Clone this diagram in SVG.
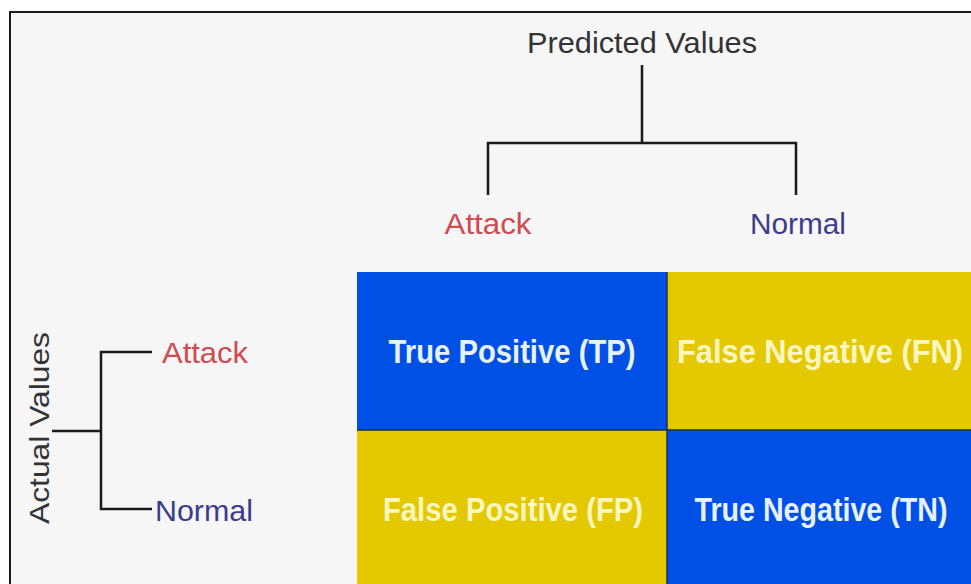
<svg xmlns="http://www.w3.org/2000/svg" width="971" height="584" viewBox="0 0 971 584">
<style>
.lbl{font-family:"Liberation Sans",Arial,sans-serif;font-size:30px}
.cell{font-family:"Liberation Sans",Arial,sans-serif;font-size:33px;font-weight:bold}
.ln{stroke:#1a1a1a;stroke-width:2.5;fill:none}
.atk{fill:#d04a50}
.nrm{fill:#3c3c8c}
</style>
<rect x="0" y="0" width="971" height="584" fill="#ffffff"/>
<rect x="10" y="12" width="970" height="580" fill="#f6f6f6" stroke="#1a1a1a" stroke-width="2"/>
<g id="connectors">
<path class="ln" d="M642 65 V143 M488 195 V143 H796 V195"/>
<path class="ln" d="M52 431 H101 M152 352 H101 V509 H152"/>
</g>
<g id="predicted-values"><text class="lbl" x="642" y="53" text-anchor="middle" fill="#333333" textLength="230" lengthAdjust="spacingAndGlyphs">Predicted Values</text></g>
<g id="pred-attack"><text class="lbl atk" x="488" y="234" text-anchor="middle" textLength="87" lengthAdjust="spacingAndGlyphs">Attack</text></g>
<g id="pred-normal"><text class="lbl nrm" x="798" y="234" text-anchor="middle" textLength="96" lengthAdjust="spacingAndGlyphs">Normal</text></g>
<g id="actual-values"><text class="lbl" transform="translate(49 428) rotate(-90)" text-anchor="middle" fill="#333333" textLength="192" lengthAdjust="spacingAndGlyphs" style="font-size:28px">Actual Values</text></g>
<g id="act-attack"><text class="lbl atk" x="162" y="363" textLength="86" lengthAdjust="spacingAndGlyphs">Attack</text></g>
<g id="act-normal"><text class="lbl nrm" x="155" y="521" textLength="98" lengthAdjust="spacingAndGlyphs">Normal</text></g>
<g id="tp"><rect x="357" y="272" width="310" height="158" fill="#0050e6"/><text class="cell" x="512" y="363" text-anchor="middle" fill="#e8f2ff" textLength="247" lengthAdjust="spacingAndGlyphs">True Positive (TP)</text></g>
<g id="fn"><rect x="667" y="272" width="304" height="158" fill="#e4c800"/><text class="cell" x="820" y="363" text-anchor="middle" fill="#fff6c0" textLength="286" lengthAdjust="spacingAndGlyphs">False Negative (FN)</text></g>
<g id="fp"><rect x="357" y="430" width="310" height="154" fill="#e4c800"/><text class="cell" x="513" y="521" text-anchor="middle" fill="#fff6c0" textLength="260" lengthAdjust="spacingAndGlyphs">False Positive (FP)</text></g>
<g id="tn"><rect x="667" y="430" width="304" height="154" fill="#0050e6"/><text class="cell" x="821" y="521" text-anchor="middle" fill="#e8f2ff" textLength="253" lengthAdjust="spacingAndGlyphs">True Negative (TN)</text></g>
<path d="M357 430 H971 M667 272 V584" stroke="#1a3050" stroke-width="1.5" fill="none"/>
</svg>
